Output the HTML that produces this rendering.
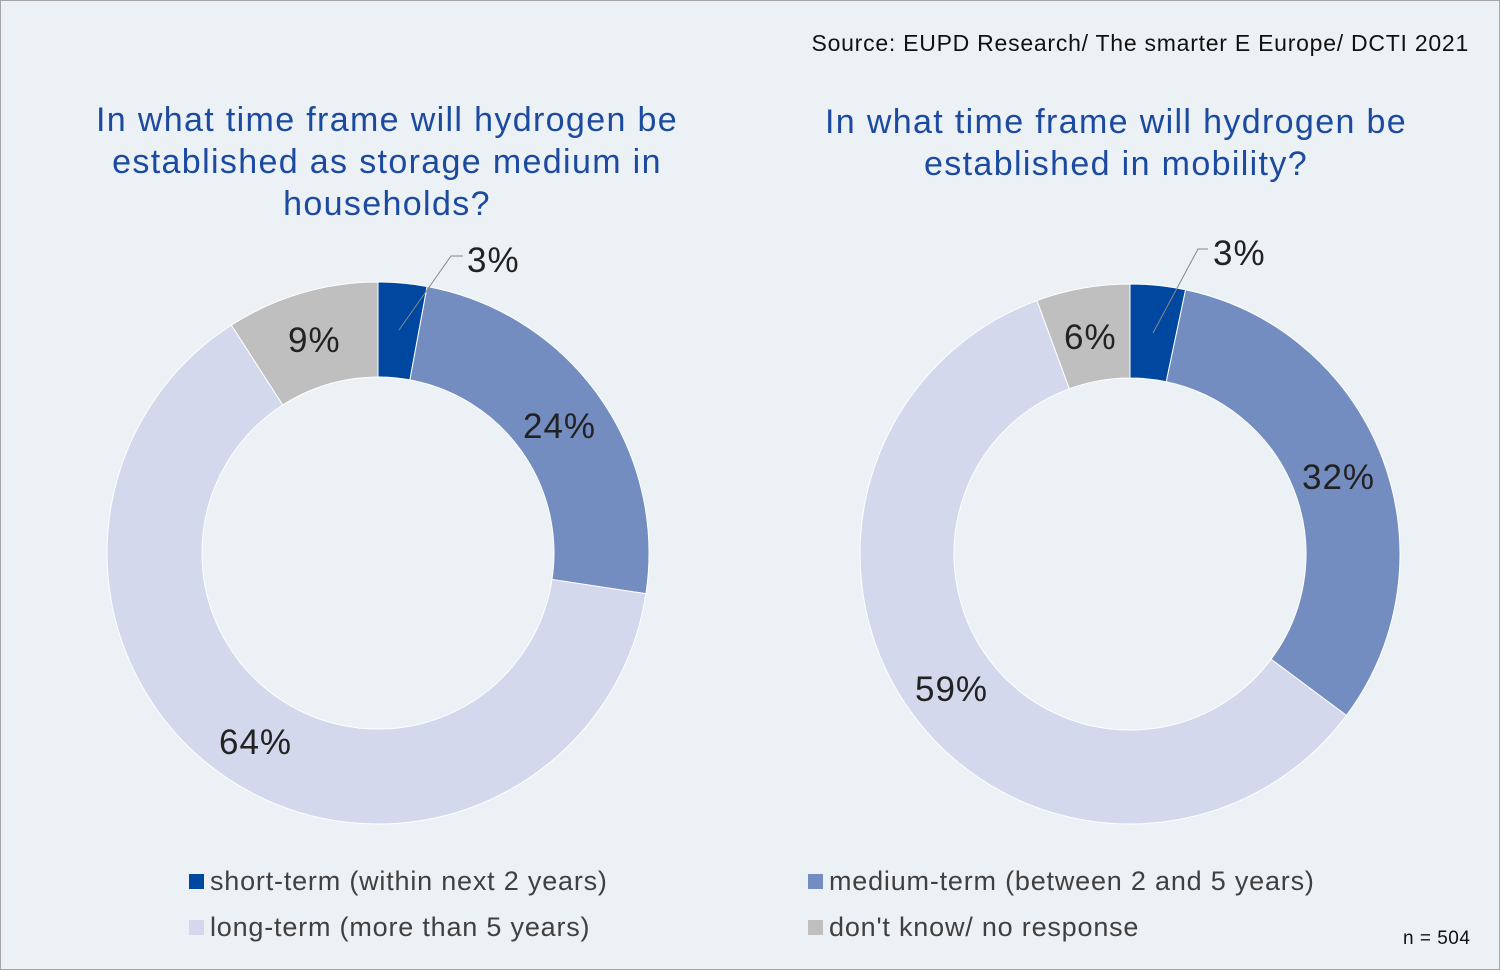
<!DOCTYPE html>
<html><head><meta charset="utf-8"><style>
body{margin:0;background:#fff}
#c{position:relative;width:1498px;height:968px;border:1px solid #a6a6a6;background:#ecf1f5;font-family:"Liberation Sans",sans-serif;overflow:hidden}
.t{position:absolute;color:#1b4aa0;font-size:34px;text-align:center;line-height:42px;letter-spacing:1.35px}
.l{position:absolute;font-size:27px;color:#404040;white-space:nowrap;letter-spacing:0.8px}
.sq{display:inline-block;width:15px;height:15px;margin-right:6px;vertical-align:1px}
</style></head><body><div id="c">
<div style="position:absolute;right:30px;top:29px;font-size:23px;color:#111;letter-spacing:0.75px">Source: EUPD Research/ The smarter E Europe/ DCTI 2021</div>
<div class="t" style="left:48px;width:676px;top:98px">In what time frame will hydrogen be established as storage medium in households?</div>
<div class="t" style="left:780px;width:670px;top:100px">In what time frame will hydrogen be established in mobility?</div>
<svg id="s" width="1498" height="968" style="position:absolute;left:0;top:0"></svg>
<div class="l" style="left:188px;top:865px"><span class="sq" style="background:#0047a0"></span>short-term (within next 2 years)</div>
<div class="l" style="left:188px;top:911px"><span class="sq" style="background:#d4d8ec"></span>long-term (more than 5 years)</div>
<div class="l" style="left:807px;top:865px"><span class="sq" style="background:#738dc0"></span>medium-term (between 2 and 5 years)</div>
<div class="l" style="left:807px;top:911px"><span class="sq" style="background:#bfbfbf"></span>don't know/ no response</div>
<div style="position:absolute;left:1402px;top:927px;font-size:19px;color:#111;letter-spacing:0.5px">n = 504</div>
</div>
<script>
var s=document.getElementById('s'),cols=['#0047a0','#738dc0','#d4d8ec','#bfbfbf'];
function donut(cx,cy,R,r,vals){var a=0,h='';vals.forEach(function(v,i){var a0=a*2*Math.PI,a1=(a+v)*2*Math.PI;a+=v;
function p(rr,t){return [cx+rr*Math.sin(t),cy-rr*Math.cos(t)]}
var l=(a1-a0)>Math.PI?1:0,P1=p(R,a0),P2=p(R,a1),P3=p(r,a1),P4=p(r,a0);
h+='<path fill="'+cols[i]+'" stroke="#fff" stroke-width="1" d="M'+P1+' A'+R+','+R+' 0 '+l+' 1 '+P2+' L'+P3+' A'+r+','+r+' 0 '+l+' 0 '+P4+'Z"/>';});return h;}
var h=donut(377,552,271,176,[0.029,0.245,0.635,0.091])+donut(1129,553,270,176,[0.033,0.319,0.592,0.056]);
h+='<polyline points="398,329 450,255 462,255" fill="none" stroke="#888" stroke-width="1"/>';
h+='<polyline points="1152,332 1197,248 1207,248" fill="none" stroke="#888" stroke-width="1"/>';
function t(x,y,s){h+='<text x="'+x+'" y="'+y+'" font-family="Liberation Sans" font-size="35" letter-spacing="1" fill="#222">'+s+'</text>'}
t(466,271,'3%');t(287,351,'9%');t(522,437,'24%');t(218,753,'64%');
t(1212,264,'3%');t(1063,348,'6%');t(1301,488,'32%');t(914,700,'59%');
s.innerHTML=h;
</script></body></html>
